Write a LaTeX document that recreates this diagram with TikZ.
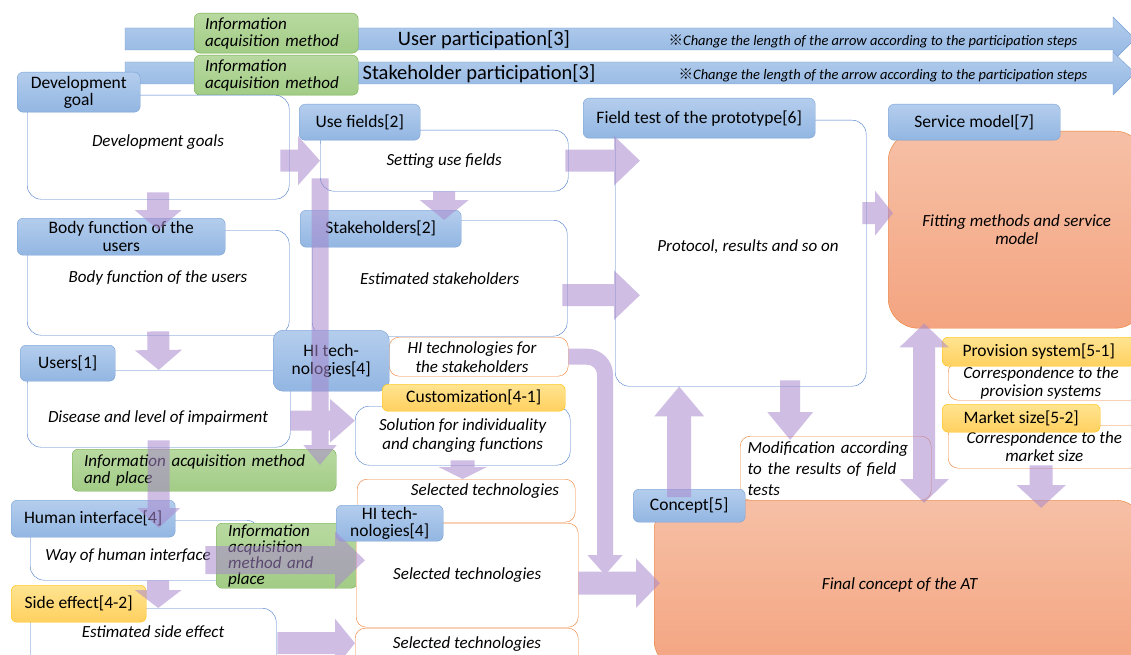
\documentclass[tikz,border=0pt]{standalone}
\usepackage{fontspec}
\setmainfont{Carlito}
\newfontfamily\cjk{Noto Sans CJK JP}
\usetikzlibrary{arrows.meta}

\definecolor{hdrtop}{RGB}{180,205,237}
\definecolor{hdrbot}{RGB}{146,182,226}
\definecolor{hdrline}{RGB}{120,160,212}
\definecolor{bodyline}{RGB}{72,122,200}
\definecolor{orline}{RGB}{237,125,49}
\definecolor{yeltop}{RGB}{255,228,145}
\definecolor{yelbot}{RGB}{255,208,95}
\definecolor{yelline}{RGB}{255,192,0}
\definecolor{grntop}{RGB}{184,217,160}
\definecolor{grnbot}{RGB}{162,204,134}
\definecolor{grnline}{RGB}{112,173,71}
\definecolor{ortop}{RGB}{246,192,166}
\definecolor{orbot}{RGB}{244,164,128}
\definecolor{flow}{RGB}{168,136,205}

\tikzset{
  sz/.style 2 args={minimum width=#1pt, minimum height=#2pt},
  hdr/.style={draw=hdrline, top color=hdrtop, bottom color=hdrbot, rounded corners=6pt,
    inner sep=0pt, align=center, anchor=north west, font=\fontsize{17.5}{17.5}\selectfont},
  yhdr/.style={hdr, draw=yelline, top color=yeltop, bottom color=yelbot},
  info/.style={hdr, draw=grnline, top color=grntop, bottom color=grnbot, align=left,
    font=\fontsize{17}{17}\selectfont\itshape},
  blubox/.style={draw=bodyline, fill=white, rounded corners=14pt, inner sep=0pt,
    align=center, anchor=north west, font=\fontsize{17}{18.5}\selectfont\itshape},
  orbox/.style={blubox, draw=orline, rounded corners=10pt},
  bigbox/.style={blubox, draw=orline, top color=ortop, bottom color=orbot, rounded corners=30pt},
  bodytxt/.style={inner sep=0pt, align=center, font=\fontsize{17}{18.5}\selectfont\itshape},
  partarrow/.style={draw=hdrline, top color=hdrtop, bottom color=hdrbot},
  blk/.style n args={3}{draw=flow, line width=#1pt, -{Triangle[width=#2pt, length=#3pt]}}
}

\begin{document}
\begin{tikzpicture}[x=1pt, y=-1pt]
  \useasboundingbox (0,0) rectangle (1131,655);
  \clip (0,0) rectangle (1131,655);
  \fill[white] (0,0) rectangle (1131,655);

  % participation arrows
  \draw[partarrow] (125,28) -- (1113,28) -- (1113,17) -- (1135,39) -- (1113,61) -- (1113,50) -- (125,50) -- cycle;
  \draw[partarrow] (125,62) -- (1113,62) -- (1113,52) -- (1135,73) -- (1113,95) -- (1113,84) -- (125,84) -- cycle;
  \node[font=\fontsize{20.5}{22}\selectfont] (userpart) at (484,40) {User participation[3]};
  \node[font=\fontsize{20.5}{22}\selectfont] (stakepart) at (479,74) {Stakeholder participation[3]};
  \node[font=\fontsize{14.5}{16}\selectfont\itshape] (usernote) at (873,41) {{\cjk ※}Change the length of the arrow according to the participation steps};
  \node[font=\fontsize{14.5}{16}\selectfont\itshape] (stakenote) at (883,75) {{\cjk ※}Change the length of the arrow according to the participation steps};
  \node[info, sz={164}{40}, text width=142pt] (info1) at (194,13) {Information\\acquisition method};
  \node[info, sz={164}{40}, text width=142pt] (info2) at (194,55) {Information\\acquisition method};

  % left column
  \node[blubox, sz={262}{104}] (devbody) at (27,95) {};
  \node[bodytxt] (devtxt) at (158,142) {Development goals};
  \node[hdr, sz={123}{40}] (devhead) at (17,72) {Development\\goal};
  \node[blubox, sz={262}{105}] (bodybody) at (27,230) {};
  \node[bodytxt] (bodytxt) at (158,278) {Body function of the users};
  \node[hdr, sz={208}{37}] (bodyhead) at (17,218) {Body function of the\\users};
  \node[blubox, sz={263}{77}] (usersbody) at (27,370) {};
  \node[bodytxt] (userstxt) at (158,418) {Disease and level of impairment};
  \node[hdr, sz={95}{36}] (usershead) at (20,345) {Users[1]};
  \node[info, sz={264}{42}, text width=240pt] (info3) at (72,449) {Information acquisition method\\and place};
  \node[blubox, sz={230}{60}] (hibody) at (30,520) {};
  \node[bodytxt] (hitxt) at (128,556) {Way of human interface};
  \node[hdr, sz={164}{37}] (hihead) at (11,500) {Human interface[4]};
  \node[info, sz={141}{65}, text width=117pt, font=\fontsize{17}{16}\selectfont\itshape] (info4) at (216,523) {Information\\acquisition\\method and\\place};
  \node[blubox, sz={246}{62}] (sidebody) at (30,608) {};
  \node[bodytxt] (sidetxt) at (153,632) {Estimated side effect};
  \node[yhdr, sz={135}{37}] (sidehead) at (11,585) {Side effect[4-2]};

  % middle column
  \node[blubox, sz={248}{61}] (usebody) at (320,130) {Setting use fields};
  \node[hdr, sz={121}{36}] (usehead) at (299,104) {Use fields[2]};
  \node[blubox, sz={255}{116}] (stakebody) at (312,220) {Estimated stakeholders};
  \node[hdr, sz={161}{37}] (stakehead) at (300,210) {Stakeholders[2]};
  \node[orbox, sz={179}{39}] (hitstake) at (389,337) {};
  \node[bodytxt] (hitstaketxt) at (472,357) {HI technologies for\\the stakeholders};
  \node[hdr, sz={116}{61}, rounded corners=10pt] (hithead) at (273,330) {HI tech-\\nologies[4]};
  \node[blubox, sz={215}{59}] (custbody) at (355,406) {Solution for individuality\\and changing functions};
  \node[yhdr, sz={183}{27}] (custhead) at (382,384) {Customization[4-1]};
  \node[orbox, sz={218}{43}] (sel1) at (357,479) {};
  \node[bodytxt] (sel1txt) at (485,491) {Selected technologies};
  \node[orbox, sz={222}{104}] (sel2) at (356,523) {Selected technologies};
  \node[orbox, sz={223}{52}] (sel3) at (355,628) {};
  \node[bodytxt] (sel3txt) at (467,644) {Selected technologies};
  \node[hdr, sz={107}{36}] (hithead2) at (336,505) {HI tech-\\nologies[4]};

  % right part
  \node[blubox, sz={251}{266}] (fieldbody) at (615,120) {};
  \node[bodytxt] (fieldtxt) at (748,247) {Protocol, results and so on};
  \node[hdr, sz={232}{40}] (fieldhead) at (583,98) {Field test of the prototype[6]};
  \node[orbox, sz={191}{64}, text width=176pt, align=left, font=\fontsize{17}{21}\selectfont\itshape] (modbox) at (740,436) {Modification according\\to the results of field\\tests};
  \node[bigbox, sz={491}{170}] (finalbody) at (654,500) {Final concept of the AT};
  \node[hdr, sz={112}{33}] (concepthead) at (633,489) {Concept[5]};
  \node[bigbox, sz={257}{197}] (servbody) at (888,131) {Fitting methods and service\\model};
  \node[hdr, sz={172}{36}] (servhead) at (888,104) {Service model[7]};
  \node[orbox, sz={192}{38}] (provbody) at (948,362) {};
  \node[bodytxt] (provtxt) at (1041,383) {Correspondence to the\\provision systems};
  \node[yhdr, sz={193}{29}] (provhead) at (942,337) {Provision system[5-1]};
  \node[orbox, sz={192}{43}] (marketbody) at (948,425) {Correspondence to the\\market size};
  \node[yhdr, sz={158}{28}] (markethead) at (942,404) {Market size[5-2]};
  \coordinate (joinpt) at (605,575);

  % flow arrows
  \begin{scope}[transparency group, opacity=0.55]
    \draw[blk={22}{48}{22}] ([xshift=-9pt]devbody.east |- usebody.west) -- (usebody.west);
    \draw[blk={22}{46}{20}] ([yshift=7pt]devbody.south) -- (bodybody.north);
    \draw[blk={22}{46}{20}] ([yshift=4pt]bodybody.south) -- (usersbody.north);
    \draw[blk={22}{42}{20}] ([yshift=7pt]usersbody.south) -- ([yshift=-8pt]usersbody.south |- hibody.north);
    \draw[blk={28}{56}{30}] ([xshift=-55pt, yshift=-10pt]hibody.east) -- ([xshift=9pt, yshift=15pt]sel2.west);
    \draw[blk={22}{46}{18}] ([xshift=13pt]hibody.south) -- ([xshift=5pt]sidebody.north);
    \draw[blk={22}{48}{20}] ([xshift=1pt, yshift=-4pt]sidebody.east) -- ([yshift=11pt]sel3.west);
    \draw[blk={22}{48}{20}] (usebody.south) -- ([xshift=4.5pt]stakebody.north);
    \draw[blk={17}{32}{20}] ([yshift=13pt]usebody.south west) -- ([yshift=-16pt]usebody.south west |- info3.north);
    \draw[blk={22}{48}{26}] ([xshift=-3pt]usebody.east) -- ([xshift=25pt]usebody.east -| fieldbody.west);
    \draw[blk={22}{48}{26}] ([xshift=-5pt, yshift=-17pt]stakebody.east) -- ([xshift=25pt, yshift=-17pt]stakebody.east -| fieldbody.west);
    \draw[blk={20}{42}{25}] ([yshift=-12pt]usersbody.east) -- ([yshift=-12pt]usersbody.east -| custbody.west);
    \draw[blk={24}{48}{12}] ([yshift=5pt]custbody.south) -- (custbody.south |- sel1.north);
    \draw[blk={16}{34}{20}, rounded corners=18pt] (hitstake.east) -| (joinpt);
    \draw[blk={23}{48}{24}] ([yshift=-8pt]sel2.east) -- ([xshift=6pt, yshift=2pt]finalbody.west);
    \draw[blk={20}{44}{28}] ([xshift=49.5pt, yshift=6pt]fieldbody.south) -- ([xshift=-45.5pt, yshift=-4pt]modbox.north);
    \draw[blk={24}{48}{30}] ([xshift=-10pt, yshift=-8pt]concepthead.north) -- ([xshift=-10pt]concepthead.north |- fieldbody.south);
    \draw[draw=flow, line width=22pt, {Triangle[width=48pt, length=24pt]}-{Triangle[width=48pt, length=24pt]}] ([xshift=-92.5pt, yshift=5pt]servbody.south) -- ([xshift=-92.5pt, yshift=-3pt]servbody.south |- finalbody.north);
    \draw[blk={23}{48}{23}] ([xshift=-3pt, yshift=3pt]marketbody.south) -- ([xshift=-3pt, yshift=-8pt]marketbody.south |- finalbody.north);
    \draw[blk={22}{44}{18}] ([xshift=-4pt, yshift=40pt]fieldbody.east) -- ([xshift=5pt, yshift=16.5pt]servbody.west);
  \end{scope}
\end{tikzpicture}
\end{document}
